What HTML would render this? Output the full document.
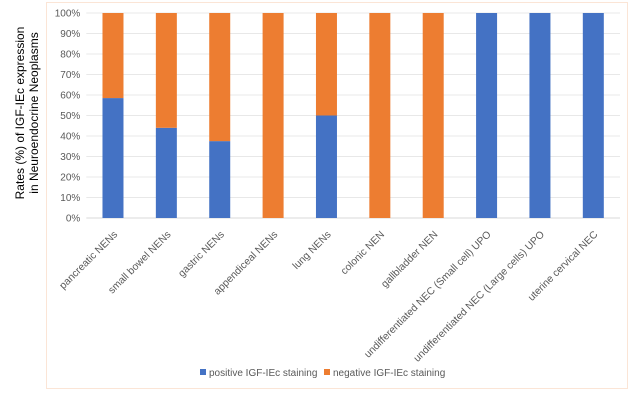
<!DOCTYPE html>
<html><head><meta charset="utf-8"><style>
body{margin:0;background:#fff;}
svg{display:block;font-family:"Liberation Sans",sans-serif;}
</style></head><body>
<svg id="c" width="630" height="404">
<rect x="46.5" y="2.5" width="581" height="386" fill="#fff" stroke="#fbe5d6" stroke-width="1"/>
<g id="y-title" transform="translate(26,113) rotate(-90)" font-size="12" fill="#000" text-anchor="middle">
<text y="-2">Rates (%) of IGF-IEc  expression</text>
<text y="12">in Neuroendocrine Neoplasms</text>
</g>
<g id="grid"></g><g id="bars"></g><g id="labels"></g>
<g font-size="10" fill="#595959">
<rect x="200" y="369" width="6" height="6" fill="#4472c4"/>
<text x="209" y="376">positive IGF-IEc staining</text>
<rect x="324" y="369" width="6" height="6" fill="#ed7d31"/>
<text x="333" y="376">negative IGF-IEc staining</text>
</g>
</svg>
<script>
const categories=["pancreatic NENs","small bowel NENs","gastric NENs","appendiceal NENs","lung NENs","colonic NEN","gallbladder NEN","undifferentiated NEC (Small cell) UPO","undifferentiated NEC (Large cells) UPO","uterine cervical NEC"];
const positive=[58.5,44,37.5,0,50,0,0,100,100,100];
const negative=[41.5,56,62.5,100,50,100,100,0,0,0];
const yTicks=[0,10,20,30,40,50,60,70,80,90,100];
const NS="http://www.w3.org/2000/svg";
const L=86.3,R=620,T=13,B=218;
const bw=(R-L)/categories.length;
const y=v=>B-(B-T)*v/100;
const xc=i=>L+bw*(i+0.5);
function mk(t,a,p){const e=document.createElementNS(NS,t);for(const k in a)e.setAttribute(k,a[k]);p.appendChild(e);return e;}
const g=document.getElementById('grid');
yTicks.forEach(t=>{
 const l=mk('line',{x1:L,x2:R,y1:y(t),y2:y(t),stroke:t===0?'#d9d9d9':'#e8e8e8','stroke-width':1},g);
 
 
 const tx=mk('text',{x:L-6,y:y(t)+3.5,'text-anchor':'end','font-size':10,fill:'#595959'},g);
 tx.textContent=t+'%';
 
 
});
const bg=document.getElementById('bars'),lg=document.getElementById('labels');
const w=21;
categories.forEach((c,i)=>{
 const x=xc(i)-w/2;
 if(positive[i]>0){const r=mk('rect',{x:x,y:y(positive[i]),width:w,height:y(0)-y(positive[i]),fill:'#4472c4'},bg);
 
 }
 if(negative[i]>0){const top=positive[i]+negative[i];const r=mk('rect',{x:x,y:y(top),width:w,height:y(positive[i])-y(top),fill:'#ed7d31'},bg);
 
 }
 const t=mk('text',{transform:`translate(${xc(i)+5},${B+17}) rotate(-45)`,'text-anchor':'end','font-size':10.3,fill:'#595959'},lg);
 t.textContent=c;
 
 
});
</script>
</body></html>
